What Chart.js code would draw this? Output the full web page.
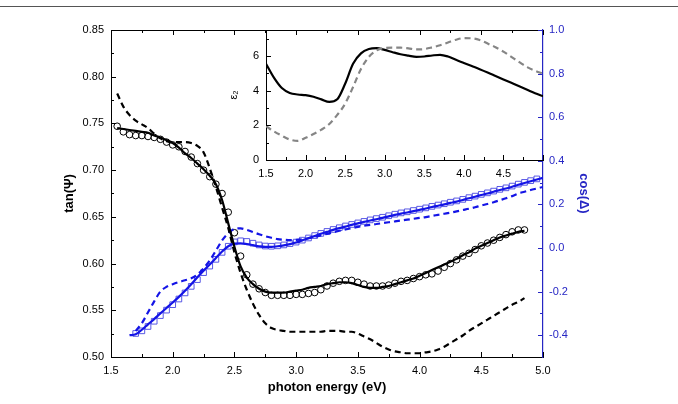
<!DOCTYPE html>
<html>
<head>
<meta charset="utf-8">
<script src="https://cdn.jsdelivr.net/npm/chart.js@4.4.1/dist/chart.umd.min.js"></script>
<style>
  html, body { margin: 0; padding: 0; background: #fff; }
  #wrap { position: relative; width: 678px; height: 404px; overflow: hidden; }
  #wrap canvas { position: absolute; left: 0; top: 0; }
  #rule { position: absolute; left: 0; top: 6px; width: 678px; height: 1px; background: #555; }
</style>
</head>
<body>
<div id="wrap">
  <div id="rule"></div>
  <canvas id="mainChart" width="678" height="404"></canvas>
  <canvas id="insetChart" width="678" height="404"></canvas>
</div>
<script>
// ---- main plot: photon energy grid (eV) ----
const eGrid = [1.55,1.60,1.65,1.70,1.75,1.80,1.85,1.90,1.95,2.00,
               2.05,2.10,2.15,2.20,2.25,2.30,2.35,2.40,2.45,2.50,
               2.55,2.60,2.65,2.70,2.75,2.80,2.85,2.90,2.95,3.00,
               3.05,3.10,3.15,3.20,3.25,3.30,3.35,3.40,3.45,3.50,
               3.55,3.60,3.65,3.70,3.75,3.80,3.85,3.90,3.95,4.00,
               4.05,4.10,4.15,4.20,4.25,4.30,4.35,4.40,4.45,4.50,
               4.55,4.60,4.65,4.70,4.75,4.80,4.85,4.90,4.95,5.00];

// tan(Psi): measured (circles), fit (solid), starting model (dashed)
const tanData = [0.747,0.741,0.738,0.737,0.737,0.736,0.735,0.733,0.730,0.727,
                 0.725,0.720,0.714,0.707,0.700,0.693,0.685,0.675,0.655,0.633,
                 0.608,0.588,0.578,0.573,0.569,0.566,0.566,0.566,0.566,0.567,
                 0.567,0.568,0.569,0.572,0.576,0.579,0.581,0.582,0.582,0.580,
                 0.578,0.576,0.576,0.576,0.577,0.579,0.581,0.582,0.584,0.586,
                 0.588,0.589,0.592,0.596,0.600,0.604,0.608,0.611,0.615,0.619,
                 0.622,0.625,0.628,0.631,0.634,0.636,0.636,null,null,null];
const tanFit = [0.745,0.744,0.743,0.742,0.741,0.740,0.737,0.735,0.732,0.729,
                0.724,0.718,0.713,0.707,0.701,0.694,0.685,0.668,0.643,0.618,
                0.597,0.585,0.578,0.573,0.570,0.569,0.569,0.569,0.570,0.571,
                0.572,0.574,0.575,0.576,0.578,0.579,0.580,0.580,0.579,0.577,
                0.575,0.574,0.574,0.575,0.576,0.578,0.580,0.582,0.584,0.587,
                0.590,0.593,0.596,0.599,0.602,0.605,0.609,0.612,0.616,0.619,
                0.622,0.625,0.628,0.630,0.632,0.634,0.635,null,null,null];
const tanInit = [0.782,0.768,0.759,0.753,0.749,0.745,0.739,0.734,0.731,0.730,
                 0.730,0.730,0.729,0.726,0.719,0.702,0.682,0.660,0.638,0.612,
                 0.590,0.572,0.557,0.545,0.536,0.531,0.529,0.528,0.527,0.527,
                 0.527,0.527,0.527,0.527,0.528,0.528,0.528,0.527,0.527,0.525,
                 0.522,0.519,0.515,0.511,0.508,0.506,0.505,0.504,0.504,0.504,
                 0.505,0.506,0.508,0.511,0.515,0.519,0.523,0.528,0.532,0.536,
                 0.540,0.544,0.548,0.552,0.556,0.559,0.563,null,null,null];

// cos(Delta): measured (squares), fit (solid), starting model (dashed)
const cosData = [null,null,null,-0.392,-0.380,-0.360,-0.336,-0.310,-0.285,-0.260,
                 -0.234,-0.206,-0.176,-0.145,-0.113,-0.083,-0.052,-0.020,0.008,0.028,
                 0.033,0.030,0.022,0.014,0.009,0.008,0.010,0.014,0.020,0.027,
                 0.036,0.046,0.057,0.067,0.076,0.085,0.093,0.101,0.108,0.115,
                 0.122,0.129,0.135,0.141,0.148,0.155,0.161,0.166,0.172,0.178,
                 0.184,0.191,0.197,0.203,0.210,0.216,0.223,0.231,0.238,0.246,
                 0.253,0.261,0.269,0.276,0.284,0.293,0.301,0.309,0.317,null];
const cosFit = [null,null,-0.400,-0.396,-0.375,-0.350,-0.326,-0.300,-0.275,-0.250,
                -0.224,-0.196,-0.166,-0.134,-0.104,-0.076,-0.046,-0.016,0.008,0.020,
                0.021,0.018,0.013,0.008,0.005,0.005,0.008,0.012,0.018,0.025,
                0.035,0.045,0.055,0.065,0.074,0.083,0.091,0.098,0.106,0.113,
                0.120,0.126,0.132,0.138,0.145,0.152,0.158,0.163,0.169,0.175,
                0.181,0.188,0.194,0.200,0.207,0.213,0.220,0.228,0.235,0.243,
                0.250,0.258,0.266,0.273,0.281,0.290,0.298,0.306,0.314,0.322];
const cosInit = [null,null,null,-0.380,-0.345,-0.295,-0.245,-0.200,-0.178,-0.166,
                 -0.156,-0.148,-0.139,-0.122,-0.093,-0.057,-0.012,0.035,0.068,0.087,
                 0.090,0.083,0.073,0.063,0.054,0.047,0.041,0.038,0.036,0.037,
                 0.040,0.045,0.051,0.058,0.065,0.072,0.079,0.085,0.091,0.097,
                 0.102,0.106,0.110,0.114,0.118,0.122,0.126,0.130,0.134,0.138,
                 0.142,0.147,0.152,0.157,0.162,0.168,0.174,0.180,0.187,0.195,
                 0.202,0.210,0.219,0.228,0.238,0.250,0.258,0.266,0.273,0.280];

// ---- inset: epsilon_2 ----
const eInset = [1.5,1.6,1.7,1.8,1.9,2.0,2.1,2.2,2.3,2.4,2.5,2.6,
                2.7,2.8,2.9,3.0,3.1,3.2,3.3,3.4,3.5,3.6,3.7,3.8,
                3.9,4.0,4.1,4.2,4.3,4.4,4.5,4.6,4.7,4.8,4.9,5.0];
const eps2Fit = [5.55,4.75,4.15,3.87,3.78,3.74,3.65,3.50,3.35,3.50,4.40,5.55,
                 6.15,6.40,6.45,6.35,6.22,6.10,6.02,5.95,5.97,6.03,6.07,5.97,
                 5.78,5.60,5.42,5.24,5.05,4.85,4.65,4.45,4.25,4.05,3.85,3.68];
const eps2Init = [1.95,1.65,1.40,1.18,1.10,1.28,1.50,1.75,2.08,2.60,3.25,4.21,
                  5.25,5.95,6.33,6.46,6.48,6.48,6.44,6.38,6.40,6.50,6.62,6.78,
                  6.94,7.03,7.02,6.92,6.72,6.50,6.25,5.95,5.65,5.36,5.15,4.98];

// ---- tick values ----
const xTicks = [1.5,2.0,2.5,3.0,3.5,4.0,4.5,5.0];
const tanTicks = [0.50,0.55,0.60,0.65,0.70,0.75,0.80,0.85];
const cosTicks = [-0.4,-0.2,0.0,0.2,0.4,0.6,0.8,1.0];
const insetXTicks = [1.5,2.0,2.5,3.0,3.5,4.0,4.5];
const epsTicks = [0,2,4,6];
const epsMinor = [1,3,5,7];

const FONT = "'Liberation Sans', Arial, Helvetica, sans-serif";
const AXIS_BLUE = '#2626c4';

function pairs(xs, ys) {
  const out = [];
  ys.forEach((y, i) => { if (y !== null) out.push({ x: xs[i], y: y }); });
  return out;
}

// halfway values between consecutive major ticks
function mids(vals) {
  const out = [];
  for (let i = 0; i < vals.length - 1; i++) out.push((vals[i] + vals[i + 1]) / 2);
  return out;
}

function seg(ctx, x1, y1, x2, y2) {
  ctx.beginPath();
  ctx.moveTo(x1, y1);
  ctx.lineTo(x2, y2);
  ctx.stroke();
}

function px(scale, v) {
  return Math.round(scale.getPixelForValue(v)) + 0.5;
}

function setTicks(values) {
  return function(scale) { scale.ticks = values.map(v => ({ value: v })); };
}

// inward tick marks + top frame for the main plot
const mainTicks = {
  id: 'mainTicks',
  afterDraw(chart) {
    const { ctx, chartArea: a, scales } = chart;
    ctx.save();
    ctx.lineWidth = 1;
    ctx.strokeStyle = '#000';
    seg(ctx, a.left, a.top + 0.5, a.right, a.top + 0.5);
    const xAll = xTicks.map(v => [v, 5]).concat(mids(xTicks).map(v => [v, 3]));
    xAll.forEach(([v, len]) => {
      const p = px(scales.x, v);
      seg(ctx, p, a.bottom, p, a.bottom - len);
      seg(ctx, p, a.top, p, a.top + len);
    });
    const yAll = tanTicks.map(v => [v, 5]).concat(mids(tanTicks).map(v => [v, 3]));
    yAll.forEach(([v, len]) => {
      const p = px(scales.y, v);
      seg(ctx, a.left, p, a.left + len, p);
    });
    ctx.strokeStyle = AXIS_BLUE;
    const y2All = cosTicks.map(v => [v, 5]).concat(mids(cosTicks).map(v => [v, 3]));
    y2All.forEach(([v, len]) => {
      const p = px(scales.y2, v);
      seg(ctx, a.right, p, a.right - len, p);
    });
    ctx.restore();
  }
};

const insetTicks = {
  id: 'insetTicks',
  afterDraw(chart) {
    const { ctx, chartArea: a, scales } = chart;
    ctx.save();
    ctx.lineWidth = 1;
    ctx.strokeStyle = '#000';
    const xs = xTicks.map(v => [v, 5]).concat(mids(xTicks).map(v => [v, 3]));
    xs.forEach(([v, len]) => {
      const p = px(scales.x, v);
      seg(ctx, p, a.bottom, p, a.bottom - len);
    });
    epsTicks.map(v => [v, 5]).concat(epsMinor.map(v => [v, 3])).forEach(([v, len]) => {
      const p = px(scales.y, v);
      seg(ctx, a.left, p, a.left + len, p);
    });
    ctx.restore();
  }
};

const tickFont = { family: FONT, size: 11 };
const titleFont = { family: FONT, size: 13, weight: 'bold' };

new Chart(document.getElementById('mainChart'), {
  type: 'line',
  data: {
    datasets: [
      { data: pairs(eGrid, tanFit), borderColor: '#000', borderWidth: 2.2, pointRadius: 0,
        cubicInterpolationMode: 'monotone', order: 0 },
      { data: pairs(eGrid, tanInit), borderColor: '#000', borderWidth: 2.2, borderDash: [6, 4],
        pointRadius: 0, cubicInterpolationMode: 'monotone', order: 0 },
      { data: pairs(eGrid, tanData), showLine: false, pointStyle: 'circle', pointRadius: 3.3,
        pointBorderColor: '#000', pointBackgroundColor: 'rgba(0,0,0,0)', pointBorderWidth: 1, order: 2 },
      { data: pairs(eGrid, cosFit), yAxisID: 'y2', borderColor: '#1414e6', borderWidth: 2.2,
        pointRadius: 0, cubicInterpolationMode: 'monotone', order: 1 },
      { data: pairs(eGrid, cosInit), yAxisID: 'y2', borderColor: '#1414e6', borderWidth: 2.2,
        borderDash: [6, 4], pointRadius: 0, cubicInterpolationMode: 'monotone', order: 1 },
      { data: pairs(eGrid, cosData), yAxisID: 'y2', showLine: false, pointStyle: 'rect', pointRadius: 4,
        pointBorderColor: 'rgba(60,60,225,0.85)', pointBackgroundColor: 'rgba(0,0,0,0)',
        pointBorderWidth: 1, order: 3 }
    ]
  },
  options: {
    responsive: false,
    animation: false,
    layout: { padding: { top: 30, left: 0, right: 0, bottom: 0 } },
    plugins: { legend: { display: false }, tooltip: { enabled: false } },
    scales: {
      x: {
        type: 'linear', min: 1.5, max: 5.0,
        afterBuildTicks: setTicks(xTicks),
        afterFit(scale) { scale.height = 47; },
        grid: { display: false, drawTicks: false },
        border: { display: true, color: '#000', width: 1 },
        ticks: { autoSkip: false, maxRotation: 0, padding: 7, color: '#000', font: tickFont,
                 callback: v => v.toFixed(1) },
        title: { display: true, text: 'photon energy (eV)', color: '#000', font: titleFont,
                 padding: { top: 0, bottom: 9 } }
      },
      y: {
        type: 'linear', position: 'left', min: 0.5, max: 0.85,
        afterBuildTicks: setTicks(tanTicks),
        afterFit(scale) { scale.width = 111; },
        grid: { display: false, drawTicks: false },
        border: { display: true, color: '#000', width: 1 },
        ticks: { autoSkip: false, padding: 7, color: '#000', font: tickFont,
                 callback: v => v.toFixed(2) },
        title: { display: true, text: 'tan(Ψ)', color: '#000', font: titleFont,
                 padding: { top: 62, bottom: 0 } }
      },
      y2: {
        type: 'linear', position: 'right', min: -0.5, max: 1.0,
        afterBuildTicks: setTicks(cosTicks),
        afterFit(scale) { scale.width = 135; },
        grid: { display: false, drawTicks: false },
        border: { display: true, color: AXIS_BLUE, width: 1.2 },
        ticks: { autoSkip: false, padding: 6, color: AXIS_BLUE, font: tickFont,
                 callback: v => v.toFixed(1) },
        title: { display: true, text: 'cos(Δ)', color: AXIS_BLUE, font: titleFont,
                 padding: { top: 87, bottom: 0 } }
      }
    }
  },
  plugins: [mainTicks]
});

new Chart(document.getElementById('insetChart'), {
  type: 'line',
  data: {
    datasets: [
      { data: pairs(eInset, eps2Init), borderColor: '#858585', borderWidth: 2.2, borderDash: [6, 4],
        pointRadius: 0, cubicInterpolationMode: 'monotone' },
      { data: pairs(eInset, eps2Fit), borderColor: '#000', borderWidth: 2.2,
        pointRadius: 0, cubicInterpolationMode: 'monotone' }
    ]
  },
  options: {
    responsive: false,
    animation: false,
    layout: { padding: { top: 30, left: 0, right: 135, bottom: 0 } },
    plugins: { legend: { display: false }, tooltip: { enabled: false } },
    scales: {
      x: {
        type: 'linear', min: 1.5, max: 5.0,
        afterBuildTicks: setTicks(insetXTicks),
        afterFit(scale) { scale.height = 244; },
        grid: { display: false, drawTicks: false },
        border: { display: true, color: '#000', width: 1 },
        ticks: { autoSkip: false, maxRotation: 0, padding: 7, color: '#000', font: tickFont,
                 callback: v => v.toFixed(1) }
      },
      y: {
        type: 'linear', position: 'left', min: 0, max: 7.5,
        afterBuildTicks: setTicks(epsTicks),
        afterFit(scale) { scale.width = 266; },
        grid: { display: false, drawTicks: false },
        border: { display: true, color: '#000', width: 1 },
        ticks: { autoSkip: false, padding: 7, color: '#000', font: tickFont,
                 callback: v => String(v) },
        title: { display: true, text: 'ε₂', color: '#000', font: { family: FONT, size: 11 },
                 padding: { top: 227, bottom: 0 } }
      }
    }
  },
  plugins: [insetTicks]
});
</script>
</body>
</html>
